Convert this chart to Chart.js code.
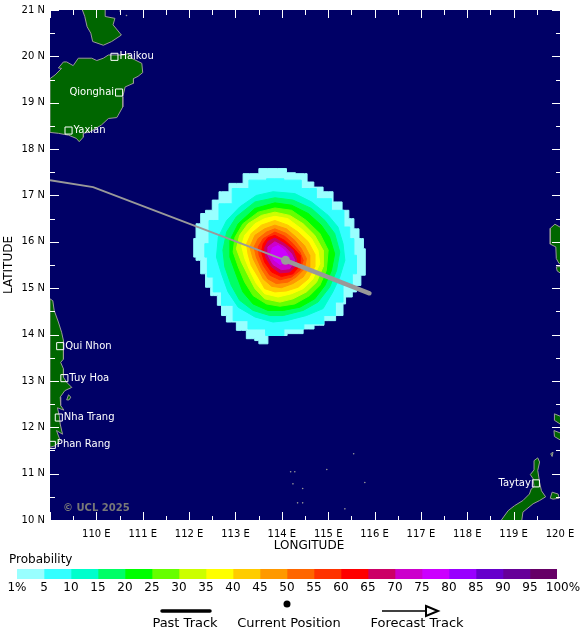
<!DOCTYPE html>
<html>
<head>
<meta charset="utf-8">
<title>Probability</title>
<script src="https://cdn.jsdelivr.net/npm/chart.js@4/dist/chart.umd.js"></script>
<style>
  html, body { margin: 0; padding: 0; background: #fff; }
  canvas { position: absolute; left: 0; }
  #mapChart { top: 0; }
  #scaleChart { top: 550px; }
</style>
</head>
<body>
<canvas id="mapChart" width="580" height="550"></canvas>
<canvas id="scaleChart" width="580" height="89"></canvas>
<script>
const lonTickLabels = ["", "110 E", "111 E", "112 E", "113 E", "114 E", "115 E", "116 E", "117 E", "118 E", "119 E", "120 E"];
const latTickLabels = ["10 N", "11 N", "12 N", "13 N", "14 N", "15 N", "16 N", "17 N", "18 N", "19 N", "20 N", "21 N"];
const bandLabels = ["1%", "5", "10", "15", "20", "25", "30", "35", "40", "45", "50", "55", "60", "65", "70", "75", "80", "85", "90", "95", "100%"];
const bandColors = ["#99ffff", "#33ffff", "#00ffcc", "#00ff66", "#00ff00", "#66ff00", "#ccff00", "#ffff00", "#ffcc00", "#ff9900",
  "#ff6600", "#ff3300", "#ff0000", "#cc0066", "#cc00cc", "#cc00ff", "#9900ff", "#6600cc", "#660099", "#660066"];
const bandWidths = [5, 5, 5, 5, 5, 5, 5, 5, 5, 5, 5, 5, 5, 5, 5, 5, 5, 5, 5, 5];

// probability contours, [lon, lat]
const level01 = [[113.70,17.58],[114.10,17.58],[114.10,17.49],[114.49,17.47],[114.60,17.29],[114.78,17.18],[115.00,17.08],[115.21,16.86],[115.39,16.68],[115.50,16.50],[115.61,16.28],[115.72,16.07],[115.80,15.85],[115.80,15.28],[115.61,15.06],[115.61,14.92],[115.43,14.81],[115.32,14.66],[115.32,14.41],[115.00,14.30],[114.82,14.20],[114.57,14.12],[114.35,14.02],[113.88,13.98],[113.52,13.80],[113.49,13.87],[113.34,13.91],[113.13,14.09],[112.91,14.27],[112.70,14.41],[112.70,14.63],[112.52,14.84],[112.41,15.02],[112.30,15.31],[112.20,15.60],[112.10,15.67],[112.10,16.07],[112.20,16.39],[112.30,16.61],[112.41,16.68],[112.59,16.90],[112.70,17.08],[113.02,17.26],[113.31,17.47]];
const level05 = [[113.49,17.33],[113.85,17.36],[114.24,17.33],[114.60,17.15],[114.89,16.93],[115.25,16.68],[115.43,16.32],[115.50,16.07],[115.61,15.71],[115.61,15.31],[115.43,15.06],[115.21,14.70],[115.10,14.41],[114.71,14.23],[114.24,14.12],[113.85,13.98],[113.45,14.12],[113.09,14.30],[112.81,14.63],[112.59,14.92],[112.45,15.24],[112.34,15.67],[112.34,15.96],[112.52,16.46],[112.77,16.82],[113.09,17.15]];
const level10 = [[113.81,17.08],[114.28,17.04],[114.64,16.86],[115.00,16.57],[115.21,16.32],[115.32,15.96],[115.36,15.60],[115.25,15.24],[115.10,14.92],[114.89,14.56],[114.53,14.41],[114.10,14.30],[113.81,14.27],[113.42,14.38],[113.06,14.59],[112.84,14.92],[112.70,15.31],[112.59,15.67],[112.63,16.10],[112.81,16.46],[113.09,16.75],[113.45,17.00]];
const level15 = [[113.85,16.95],[114.24,16.90],[114.64,16.72],[114.93,16.46],[115.14,16.18],[115.25,15.78],[115.18,15.38],[115.03,15.02],[114.78,14.70],[114.46,14.52],[114.03,14.41],[113.74,14.41],[113.38,14.52],[113.09,14.74],[112.91,15.06],[112.77,15.46],[112.73,15.82],[112.81,16.21],[113.02,16.54],[113.42,16.86]];
const level20 = [[113.85,16.84],[114.21,16.79],[114.57,16.61],[114.85,16.36],[115.03,16.10],[115.14,15.74],[115.07,15.38],[114.93,15.06],[114.71,14.77],[114.39,14.59],[114.03,14.52],[113.70,14.52],[113.38,14.66],[113.16,14.92],[113.02,15.28],[112.88,15.67],[112.88,16.03],[113.06,16.39],[113.42,16.72]];
const level25 = [[113.85,16.73],[114.21,16.68],[114.53,16.46],[114.82,16.18],[115.00,15.82],[114.96,15.38],[114.82,15.06],[114.60,14.84],[114.28,14.66],[113.96,14.61],[113.67,14.66],[113.38,14.84],[113.20,15.13],[113.06,15.46],[112.95,15.78],[112.99,16.10],[113.16,16.39],[113.49,16.64]];
const level30 = [[113.85,16.64],[114.17,16.57],[114.46,16.39],[114.71,16.14],[114.89,15.82],[114.89,15.46],[114.75,15.13],[114.53,14.92],[114.24,14.77],[113.96,14.70],[113.63,14.77],[113.42,14.99],[113.27,15.28],[113.13,15.56],[113.02,15.85],[113.09,16.14],[113.27,16.39],[113.56,16.57]];
const level35 = [[113.85,16.55],[114.13,16.50],[114.42,16.28],[114.64,16.07],[114.78,15.82],[114.82,15.53],[114.67,15.20],[114.46,14.99],[114.21,14.88],[113.92,14.81],[113.63,14.88],[113.45,15.10],[113.31,15.38],[113.20,15.64],[113.13,15.92],[113.20,16.14],[113.42,16.39],[113.63,16.50]];
const level40 = [[113.85,16.46],[114.13,16.36],[114.35,16.21],[114.57,16.00],[114.71,15.74],[114.71,15.46],[114.57,15.20],[114.35,15.02],[114.10,14.94],[113.85,14.92],[113.63,14.99],[113.49,15.24],[113.34,15.49],[113.27,15.74],[113.24,15.96],[113.34,16.18],[113.56,16.36]];
const level45 = [[113.85,16.36],[114.10,16.28],[114.31,16.10],[114.49,15.92],[114.60,15.71],[114.60,15.46],[114.46,15.24],[114.24,15.10],[113.99,15.01],[113.78,15.04],[113.60,15.20],[113.49,15.42],[113.38,15.64],[113.31,15.89],[113.42,16.14],[113.63,16.28]];
const level50 = [[113.85,16.28],[114.10,16.18],[114.28,16.03],[114.42,15.85],[114.53,15.64],[114.49,15.42],[114.31,15.24],[114.13,15.13],[113.88,15.10],[113.70,15.20],[113.56,15.42],[113.45,15.67],[113.40,15.89],[113.49,16.07],[113.67,16.21]];
const level55 = [[113.85,16.21],[114.06,16.12],[114.24,15.96],[114.39,15.78],[114.46,15.60],[114.39,15.38],[114.21,15.24],[113.96,15.18],[113.74,15.28],[113.60,15.49],[113.51,15.71],[113.49,15.89],[113.60,16.07]];
const level60 = [[113.85,16.14],[114.06,16.03],[114.24,15.87],[114.39,15.71],[114.39,15.49],[114.24,15.31],[113.99,15.25],[113.78,15.35],[113.63,15.56],[113.56,15.78],[113.60,15.96],[113.70,16.09]];
const level65 = [[113.85,16.08],[114.06,15.96],[114.24,15.82],[114.31,15.64],[114.31,15.49],[114.17,15.35],[113.96,15.33],[113.78,15.46],[113.65,15.67],[113.63,15.87],[113.70,16.01]];
const level70 = [[113.85,16.00],[114.06,15.89],[114.21,15.74],[114.28,15.60],[114.17,15.42],[113.99,15.40],[113.81,15.51],[113.70,15.71],[113.70,15.89]];
const level75 = [[113.92,15.92],[114.06,15.82],[114.16,15.67],[114.10,15.56],[113.96,15.51],[113.83,15.61],[113.76,15.76],[113.80,15.87]];
const contours = [level01, level05, level10, level15, level20, level25, level30, level35, level40, level45, level50, level55, level60, level65, level70, level75];

// land, [lon, lat]
const leizhou = [[109.68,21.05],[109.75,20.86],[109.80,20.64],[109.88,20.50],[109.92,20.32],[110.15,20.24],[110.33,20.32],[110.54,20.46],[110.36,20.68],[110.40,20.82],[110.19,20.86],[110.19,21.05]];
const hainan = [[109.00,19.52],[109.11,19.60],[109.25,19.74],[109.18,19.75],[109.29,19.88],[109.36,19.88],[109.50,19.80],[109.61,19.96],[109.90,19.96],[110.01,19.91],[110.15,19.96],[110.26,20.03],[110.58,20.03],[110.69,20.06],[110.76,19.96],[110.98,19.85],[111.00,19.65],[110.90,19.57],[110.80,19.52],[110.80,19.42],[110.62,19.34],[110.57,19.13],[110.57,18.91],[110.47,18.73],[110.44,18.68],[110.26,18.66],[110.11,18.52],[109.86,18.37],[109.72,18.34],[109.72,18.26],[109.63,18.16],[109.57,18.23],[109.40,18.30],[109.18,18.34],[109.00,18.36]];
const vietnam = [[109.00,14.77],[109.06,14.73],[109.09,14.52],[109.18,14.27],[109.25,14.05],[109.29,13.87],[109.29,13.47],[109.23,13.40],[109.29,13.26],[109.29,13.08],[109.36,12.97],[109.47,12.86],[109.32,12.79],[109.22,12.65],[109.23,12.47],[109.30,12.37],[109.16,12.42],[109.20,12.25],[109.22,12.07],[109.27,11.85],[109.14,11.93],[109.22,11.71],[109.11,11.60],[109.00,11.57]];
const vietnamIsle = [[109.36,12.59],[109.40,12.70],[109.45,12.65],[109.41,12.59]];
const palawan = [[118.70,9.95],[118.88,10.20],[119.02,10.31],[119.20,10.42],[119.34,10.56],[119.38,10.67],[119.44,10.72],[119.42,10.89],[119.36,10.98],[119.44,11.08],[119.44,11.28],[119.52,11.34],[119.56,11.25],[119.52,11.07],[119.56,10.81],[119.60,10.63],[119.69,10.50],[119.56,10.42],[119.42,10.35],[119.20,10.17],[119.17,9.95]];
const palawanIsle = [[119.79,10.47],[119.83,10.60],[119.96,10.56],[119.98,10.47],[119.85,10.45]];
const edgeIsleA = [[119.88,12.29],[120.05,12.22],[120.05,12.04],[119.88,12.15]];
const edgeIsleB = [[119.87,11.93],[120.05,11.86],[120.05,11.70],[119.88,11.80]];
const edgeIsleC = [[119.80,11.43],[119.85,11.46],[119.83,11.37]];
const luzon = [[120.05,16.29],[119.89,16.38],[119.79,16.29],[119.79,15.95],[119.91,15.89],[119.92,15.64],[119.98,15.53],[120.05,15.53]];
const luzonIsle = [[119.92,15.46],[120.05,15.47],[120.05,15.30],[119.94,15.37]];
const landShapes = [leizhou, hainan, vietnam, vietnamIsle, palawan, palawanIsle, edgeIsleA, edgeIsleB, edgeIsleC, luzon, luzonIsle];
const specks = [[114.19,11.04],[114.28,11.04],[114.97,11.09],[114.24,10.78],[114.45,10.68],[114.34,10.37],[114.45,10.37],[115.79,10.81],[115.36,10.24],[115.55,11.43],[110.51,20.98],[110.65,20.88]];

// track
const pastTrack = [[109.00,17.33],[109.93,17.18],[114.08,15.60]];
const forecastTrack = [[114.08,15.60],[115.89,14.89]];
const currentPosition = [[114.08,15.60]];

// cities: lon, lat, name, label side
const cityNames = ["Haikou", "Qionghai", "Yaxian", "Qui Nhon", "Tuy Hoa", "Nha Trang", "Phan Rang", "Taytay"];
const cityCoords = [[110.39,19.99],[110.49,19.22],[109.40,18.40],[109.22,13.75],[109.31,13.06],[109.19,12.21],[109.04,11.62],[119.48,10.79]];
const citySides = ["right", "left", "right", "right", "right", "right", "right", "left"];

const FONT = "'DejaVu Sans', sans-serif";
const toXY = (pts) => pts.map((p) => ({ x: p[0], y: p[1] }));
const closed = (pts) => toXY(pts.concat([pts[0]]));

function buildDatasets() {
  const list = [];
  contours.forEach((c, i) => {
    list.push({ data: closed(c), showLine: true, stepped: i < 2 ? "middle" : false, fill: "shape", backgroundColor: bandColors[i], borderColor: bandColors[i], borderWidth: 1, pointRadius: 0 });
  });
  landShapes.forEach((s) => {
    list.push({ data: closed(s), showLine: true, fill: "shape", backgroundColor: "#006600", borderColor: "#999999", borderWidth: 1, pointRadius: 0 });
  });
  list.push({ data: toXY(specks), showLine: false, pointRadius: 0.8, pointBackgroundColor: "#999999", pointBorderWidth: 0 });
  list.push({ data: toXY(pastTrack), showLine: true, borderColor: "#999999", borderWidth: 2, pointRadius: 0 });
  list.push({ data: toXY(forecastTrack), showLine: true, borderColor: "#999999", borderWidth: 4.5, borderCapStyle: "round", pointRadius: 0 });
  list.push({ data: toXY(currentPosition), showLine: false, pointRadius: 4.5, pointBackgroundColor: "#999999", pointBorderWidth: 0 });
  list.push({ data: toXY(cityCoords), showLine: false, pointStyle: "rect", pointRadius: 5, pointBackgroundColor: "rgba(0,0,0,0)", pointBorderColor: "#ffffff", pointBorderWidth: 1 });
  // chart.js paints the first dataset last, so force array order
  list.forEach((d, i) => { d.order = list.length - i; });
  return list;
}

const mapPlugin = {
  id: "mapExtras",
  beforeDraw(chart) {
    const { ctx, chartArea: a } = chart;
    ctx.fillStyle = "#000066";
    ctx.fillRect(a.left, a.top, a.right - a.left, a.bottom - a.top);
  },
  afterDraw(chart) {
    const { ctx, chartArea: a, scales } = chart;
    ctx.save();
    ctx.strokeStyle = "#ffffff";
    ctx.lineWidth = 1;
    ctx.beginPath();
    for (let v = 109; v <= 120; v += 0.5) {
      const x = Math.round(scales.x.getPixelForValue(v)) + 0.5;
      const major = Number.isInteger(v);
      ctx.moveTo(x, a.top);
      ctx.lineTo(x, a.top + (major ? 8 : 5));
      ctx.moveTo(x, a.bottom);
      ctx.lineTo(x, a.bottom - (major ? 8 : 4));
    }
    for (let v = 10; v <= 21; v += 0.5) {
      const y = Math.round(scales.y.getPixelForValue(v)) + 0.5;
      const major = Number.isInteger(v);
      ctx.moveTo(a.left, y);
      ctx.lineTo(a.left + (major ? 9 : 5), y);
      ctx.moveTo(a.right, y);
      ctx.lineTo(a.right - (major ? 8 : 4), y);
    }
    ctx.stroke();

    ctx.fillStyle = "#ffffff";
    ctx.font = "10px " + FONT;
    ctx.textBaseline = "middle";
    cityNames.forEach((name, i) => {
      const x = scales.x.getPixelForValue(cityCoords[i][0]);
      const y = scales.y.getPixelForValue(cityCoords[i][1]);
      const right = citySides[i] === "right";
      ctx.textAlign = right ? "left" : "right";
      ctx.fillText(name, x + (right ? 5 : -5), y);
    });

    ctx.fillStyle = "#777777";
    ctx.font = "bold 10px " + FONT;
    ctx.textAlign = "left";
    ctx.fillText("© UCL 2025", 63, 508);

    ctx.fillStyle = "#000";
    ctx.font = "12px " + FONT;
    ctx.textAlign = "center";
    ctx.fillText("LONGITUDE", 309, 546);
    ctx.restore();
  },
};

new Chart(document.getElementById("mapChart"), {
  type: "scatter",
  data: { datasets: buildDatasets() },
  plugins: [mapPlugin],
  options: {
    responsive: false,
    animation: false,
    devicePixelRatio: 1,
    layout: { padding: { top: 10, right: 20, left: 0, bottom: 0 } },
    plugins: { legend: { display: false }, tooltip: { enabled: false } },
    scales: {
      x: {
        type: "linear",
        min: 109,
        max: 120,
        afterFit: (s) => { s.height = 30; s.paddingLeft = 0; s.paddingRight = 0; },
        grid: { display: false, drawTicks: false },
        border: { display: false },
        ticks: {
          stepSize: 1,
          autoSkip: false,
          maxRotation: 0,
          padding: 8,
          color: "#000",
          font: { family: FONT, size: 10 },
          callback: (v, i) => lonTickLabels[i],
        },
      },
      y: {
        type: "linear",
        min: 10,
        max: 21,
        afterFit: (s) => { s.width = 50; s.paddingTop = 0; s.paddingBottom = 0; },
        grid: { display: false, drawTicks: false },
        border: { display: false },
        ticks: {
          stepSize: 1,
          autoSkip: false,
          padding: 5,
          color: "#000",
          font: { family: FONT, size: 10 },
          callback: (v, i) => latTickLabels[i],
        },
        title: { display: true, text: "LATITUDE", color: "#000", font: { family: FONT, size: 12 }, padding: { top: 2, bottom: 0 } },
      },
    },
  },
});

const scalePlugin = {
  id: "scaleExtras",
  afterDraw(chart) {
    const { ctx, scales } = chart;
    ctx.save();
    ctx.fillStyle = "#000";
    ctx.textBaseline = "middle";

    ctx.font = "12px " + FONT;
    ctx.textAlign = "left";
    ctx.fillText("Probability", 9, 10);

    ctx.textAlign = "center";
    bandLabels.forEach((t, i) => {
      const shift = t === "100%" ? 6 : 0;
      ctx.fillText(t, scales.x.getPixelForValue(i * bandWidths[0]) + shift, 38);
    });

    ctx.font = "13px " + FONT;
    ctx.fillText("Past Track", 185, 74);
    ctx.fillText("Current Position", 289, 74);
    ctx.fillText("Forecast Track", 417, 74);

    ctx.strokeStyle = "#000";
    ctx.lineCap = "round";
    ctx.lineWidth = 3.5;
    ctx.beginPath();
    ctx.moveTo(162, 61);
    ctx.lineTo(210, 61);
    ctx.stroke();

    ctx.beginPath();
    ctx.arc(287, 54, 3.5, 0, Math.PI * 2);
    ctx.fill();

    ctx.lineCap = "butt";
    ctx.lineWidth = 1.5;
    ctx.beginPath();
    ctx.moveTo(382, 61);
    ctx.lineTo(425, 61);
    ctx.stroke();
    ctx.lineWidth = 2;
    ctx.fillStyle = "#fff";
    ctx.beginPath();
    ctx.moveTo(426, 56);
    ctx.lineTo(438, 61);
    ctx.lineTo(426, 66);
    ctx.closePath();
    ctx.fill();
    ctx.stroke();
    ctx.restore();
  },
};

new Chart(document.getElementById("scaleChart"), {
  type: "bar",
  data: {
    labels: ["Probability"],
    datasets: bandColors.map((c, i) => ({ data: [bandWidths[i]], backgroundColor: c, borderWidth: 0, barPercentage: 1, categoryPercentage: 1 })),
  },
  plugins: [scalePlugin],
  options: {
    indexAxis: "y",
    responsive: false,
    animation: false,
    devicePixelRatio: 1,
    layout: { padding: { top: 19, right: 23, left: 17, bottom: 60 } },
    plugins: { legend: { display: false }, tooltip: { enabled: false } },
    scales: {
      x: { stacked: true, display: false, min: 0, max: 100 },
      y: { stacked: true, display: false },
    },
  },
});
</script>
</body>
</html>
